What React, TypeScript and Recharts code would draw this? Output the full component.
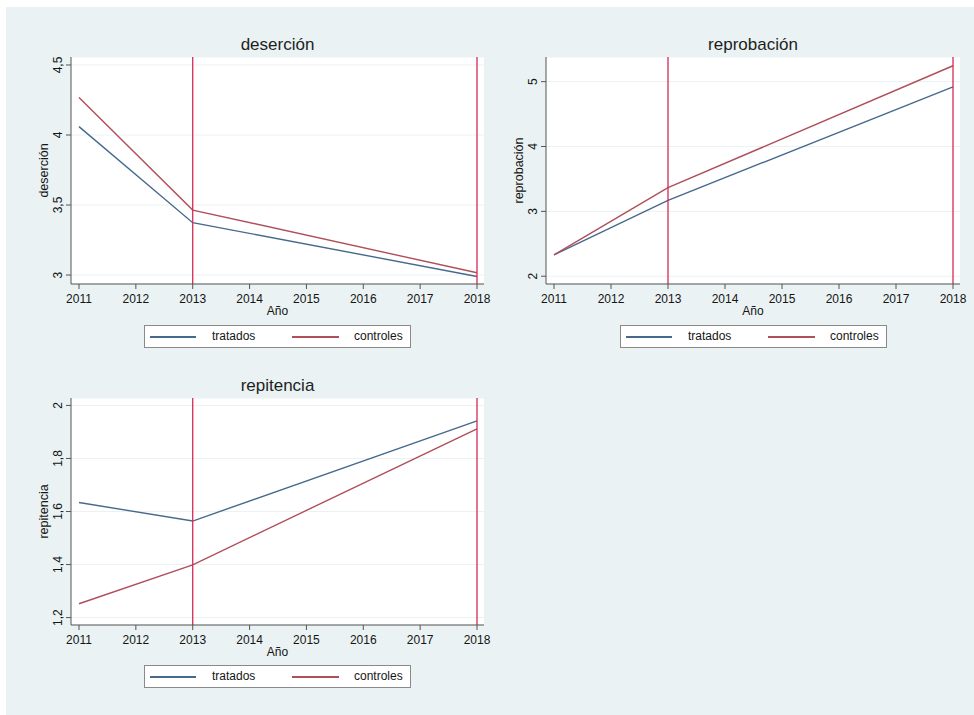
import React from "react"
import { LineChart, Line, XAxis, YAxis, CartesianGrid, ReferenceLine } from "recharts"

// years observed and the x tick labels
const years = [2011, 2013, 2018]
const xTicks = [2011, 2012, 2013, 2014, 2015, 2016, 2017, 2018]
const eventYears = [2013, 2018]

// deserción
const desercionTratados = [4.06, 3.374, 2.99]
const desercionControles = [4.267, 3.464, 3.016]
const desercionTicks = [3, 3.5, 4, 4.5]

// reprobación
const reprobacionTratados = [2.33, 3.17, 4.92]
const reprobacionControles = [2.33, 3.365, 5.245]
const reprobacionTicks = [2, 3, 4, 5]

// repitencia
const repitenciaTratados = [1.634, 1.564, 1.942]
const repitenciaControles = [1.252, 1.399, 1.912]
const repitenciaTicks = [1.2, 1.4, 1.6, 1.8, 2]

const BG = "#eaf2f3"
const BLUE = "#46698c"
const RED = "#b04f5a"
const VLINE = "#d62a55"
const FONT = '"Liberation Sans", Arial, sans-serif'

const buildRows = (a: number[], b: number[]) =>
  years.map((year, i) => ({ year, tratados: a[i], controles: b[i] }))

const fmt = (v: number) => String(v).replace(".", ",")

const YTick = (props: any) => {
  const { x, y, payload } = props
  return (
    <text transform={`translate(${x - 6},${y}) rotate(-90)`} textAnchor="middle" dy="0.35em" fontSize={12} fill="#151515" fontFamily={FONT}>
      {fmt(payload.value)}
    </text>
  )
}

type PanelProps = {
  x0: number
  x1: number
  y0: number
  y1: number
  title: string
  tratados: number[]
  controles: number[]
  domain: [number, number]
  ticks: number[]
}

function Panel({ x0, x1, y0, y1, title, tratados, controles, domain, ticks }: PanelProps) {
  const yw = 71
  const top = 57
  const width = yw + (x1 - x0) + 10
  const height = top + (y1 - y0) + 45
  const rows = buildRows(tratados, controles)
  return (
    <>
      <div
        style={{
          position: "absolute",
          left: x0,
          width: x1 - x0,
          top: y0 - 22,
          textAlign: "center",
          fontSize: 17,
          color: "#1e1e1e",
          lineHeight: "20px",
        }}
      >
        {title}
      </div>
      <div style={{ position: "absolute", left: x0 - yw, top: y0 - top }}>
        <LineChart width={width} height={height} data={rows} margin={{ top, left: 0, right: 10, bottom: 5 }}>
          <CartesianGrid vertical={false} stroke={BG} fill="#ffffff" />
          <XAxis
            type="number"
            dataKey="year"
            domain={[2011, 2018]}
            ticks={xTicks}
            padding={{ left: 8, right: 7 }}
            height={40}
            tickSize={5}
            tickMargin={5}
            stroke="#555"
            tick={{ fontSize: 12, fill: "#151515", fontFamily: FONT }}
            label={{
              content: (p: any) => {
                const vb = p.viewBox
                return (
                  <text x={vb.x + vb.width / 2} y={vb.y + 31} textAnchor="middle" fontSize={12} fill="#151515" fontFamily={FONT}>
                    Año
                  </text>
                )
              },
            }}
          />
          <YAxis
            type="number"
            domain={domain}
            ticks={ticks}
            allowDataOverflow
            width={yw}
            tickSize={5}
            tickMargin={2}
            stroke="#555"
            tick={<YTick />}
            label={{
              content: (p: any) => {
                const vb = p.viewBox
                const cx = vb.x + yw - 27
                const cy = vb.y + vb.height / 2
                return (
                  <text transform={`translate(${cx},${cy}) rotate(-90)`} textAnchor="middle" dy="0.35em" fontSize={12.5} fill="#151515" fontFamily={FONT}>
                    {title}
                  </text>
                )
              },
            }}
          />
          <Line type="linear" dataKey="tratados" stroke={BLUE} strokeWidth={1.4} dot={false} isAnimationActive={false} />
          <Line type="linear" dataKey="controles" stroke={RED} strokeWidth={1.4} dot={false} isAnimationActive={false} />
          {eventYears.map((yr) => (
            <ReferenceLine key={yr} x={yr} stroke={VLINE} strokeWidth={1.3} />
          ))}
        </LineChart>
      </div>
    </>
  )
}

function LegendBox({ left, top }: { left: number; top: number }) {
  const text = { position: "absolute" as const, top: 3, fontSize: 12, color: "#151515", lineHeight: "14px" }
  return (
    <div
      style={{
        position: "absolute",
        left,
        top,
        width: 265,
        height: 21,
        border: "1px solid #8a8a8a",
        background: "#fff",
      }}
    >
      <div style={{ position: "absolute", left: 5, top: 10, width: 46, height: 1.5, background: BLUE }} />
      <span style={{ ...text, left: 67 }}>tratados</span>
      <div style={{ position: "absolute", left: 147, top: 10, width: 47, height: 1.5, background: RED }} />
      <span style={{ ...text, left: 209 }}>controles</span>
    </div>
  )
}

export default function App() {
  return (
    <div style={{ position: "absolute", left: 0, top: 0, width: 974, height: 715, background: "#fff", fontFamily: FONT }}>
      <div style={{ position: "absolute", left: 6, top: 7, right: 0, bottom: 0, background: BG }} />
      <Panel
        x0={71}
        x1={484}
        y0={57}
        y1={284}
        title="deserción"
        tratados={desercionTratados}
        controles={desercionControles}
        domain={[2.936, 4.557]}
        ticks={desercionTicks}
      />
      <Panel
        x0={546}
        x1={960}
        y0={57}
        y1={284}
        title="reprobación"
        tratados={reprobacionTratados}
        controles={reprobacionControles}
        domain={[1.88, 5.38]}
        ticks={reprobacionTicks}
      />
      <Panel
        x0={71}
        x1={484}
        y0={398}
        y1={625}
        title="repitencia"
        tratados={repitenciaTratados}
        controles={repitenciaControles}
        domain={[1.172, 2.028]}
        ticks={repitenciaTicks}
      />
      <LegendBox left={144} top={325} />
      <LegendBox left={620} top={325} />
      <LegendBox left={144} top={665} />
    </div>
  )
}
